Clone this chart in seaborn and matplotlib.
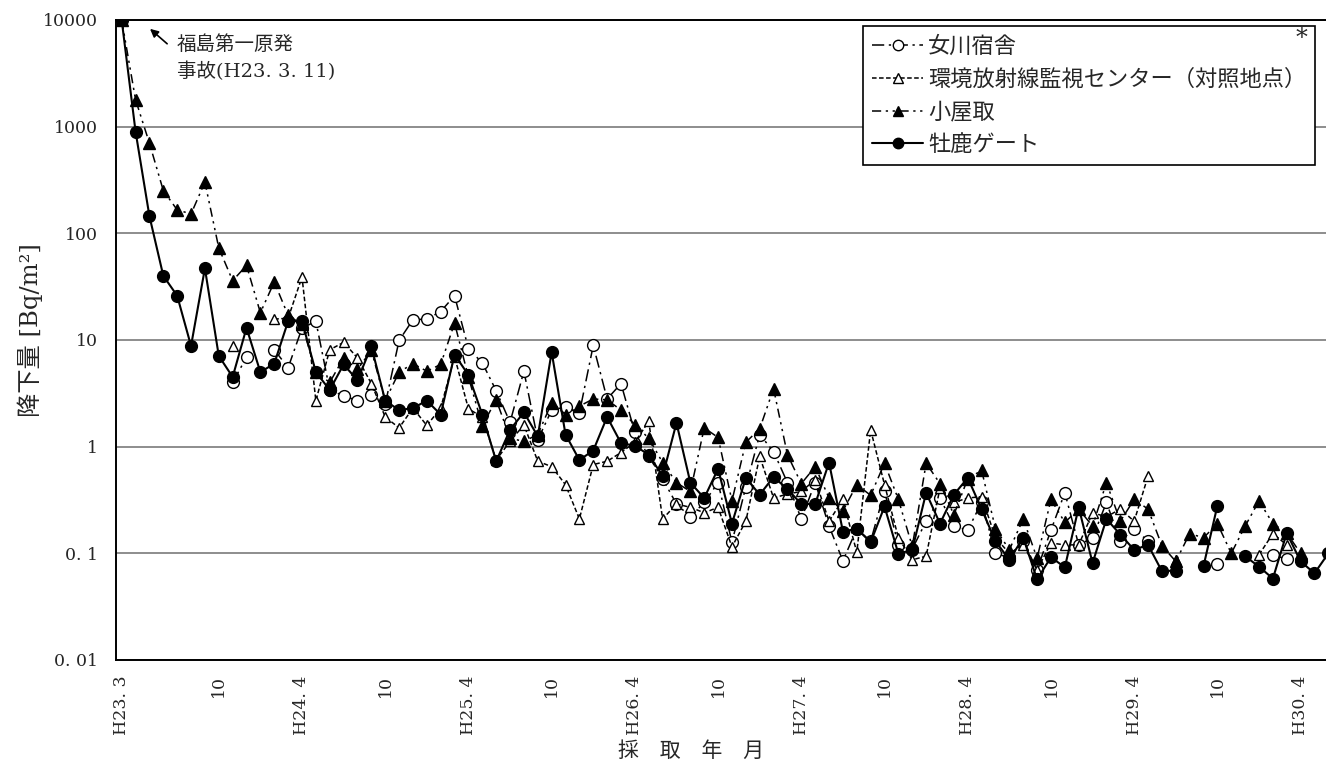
import numpy as np
import pandas as pd
import matplotlib
matplotlib.use("Agg")
import matplotlib.pyplot as plt
import seaborn as sns
from matplotlib.lines import Line2D

nan = np.nan

# ---------------- data ----------------
months = list(range(88))  # 0 = H23.3 (2011-03) ... 87 = H30.6
tick_pos = [0, 7, 13, 19, 25, 31, 37, 43, 49, 55, 61, 67, 73, 79, 85]
tick_labels = ["H23. 3", "10", "H24. 4", "10", "H25. 4", "10", "H26. 4", "10",
               "H27. 4", "10", "H28. 4", "10", "H29. 4", "10", "H30. 4"]
ytick_vals = [0.01, 0.1, 1, 10, 100, 1000, 10000]
ytick_labels = ["0. 01", "0. 1", "1", "10", "100", "1000", "10000"]

series_names = ["女川宿舎", "環境放射線監視センター（対照地点）", "小屋取", "牡鹿ゲート"]

onagawa = [nan, nan, nan, nan, nan, nan, nan, nan, 4.0, 6.9,
           nan, 8.1, 5.5, 12.9, 15, 3.4, 3.0, 2.7, 3.07, 2.5,
           9.9, 15.5, 15.7, 18.5, 26, 8.3, 6.1, 3.35, 1.69, 5.1,
           1.16, 2.2, 2.36, 2.07, 8.9, 2.8, 3.9, 1.36, 0.81, 0.5,
           0.29, 0.22, 0.3, 0.46, 0.127, 0.42, 1.3, 0.9, 0.46, 0.21,
           0.46, 0.18, 0.085, 0.17, 0.13, 0.38, 0.12, 0.11, 0.2, 0.33,
           0.18, 0.165, 0.3, 0.101, 0.09, 0.13, 0.07, 0.165, 0.37, 0.12,
           0.14, 0.3, 0.13, 0.17, 0.13, nan, nan, nan, nan, 0.08,
           nan, nan, nan, 0.097, 0.088, nan, nan, nan]

center = [nan, nan, nan, nan, nan, nan, nan, nan, 8.7, nan,
          nan, 15.7, 16, 39, 2.7, 8.1, 9.5, 6.8, 3.9, 1.9,
          1.5, 2.3, 1.58, 2.3, 7.0, 2.26, 1.9, 0.75, 1.12, 1.6,
          0.73, 0.65, 0.44, 0.21, 0.68, 0.73, 0.88, 1.1, 1.73, 0.21,
          0.29, 0.27, 0.24, 0.27, 0.115, 0.2, 0.81, 0.33, 0.36, 0.38,
          0.49, 0.2, 0.32, 0.102, 1.44, 0.44, 0.14, 0.087, 0.094, 0.41,
          0.3, 0.33, 0.34, 0.14, 0.1, 0.12, 0.07, 0.125, 0.12, 0.12,
          0.24, 0.22, 0.26, 0.2, 0.53, nan, 0.087, nan, nan, nan,
          nan, nan, 0.097, 0.153, 0.12, nan, nan, nan]

koyadori = [10000, 1790, 700, 252, 166, 152, 302, 73, 36, 50,
            18, 35, 17, 14, 5.0, 4.0, 6.8, 5.3, 8.0, 2.7,
            5.0, 6.0, 5.1, 5.9, 14.4, 4.5, 1.57, 2.76, 1.2, 1.12,
            1.3, 2.57, 2.0, 2.4, 2.8, 2.75, 2.2, 1.6, 1.2, 0.71,
            0.46, 0.38, 1.5, 1.22, 0.31, 1.1, 1.47, 3.5, 0.84, 0.45,
            0.65, 0.33, 0.25, 0.44, 0.35, 0.70, 0.32, 0.116, 0.70, 0.45,
            0.23, 0.5, 0.6, 0.17, 0.108, 0.21, 0.09, 0.32, 0.195, 0.26,
            0.18, 0.46, 0.2, 0.32, 0.26, 0.118, 0.084, 0.153, 0.14, 0.19,
            0.1, 0.18, 0.31, 0.19, 0.155, 0.1, nan, nan]

oshika = [10000, 900, 145, 40, 26, 8.8, 47, 7.1, 4.5, 13,
          5.0, 6.0, 15, 15, 5.0, 3.4, 5.9, 4.2, 8.7, 2.7,
          2.2, 2.3, 2.7, 2.0, 7.3, 4.7, 2.0, 0.73, 1.44, 2.1,
          1.25, 7.7, 1.3, 0.75, 0.92, 1.9, 1.08, 1.02, 0.84, 0.53,
          1.67, 0.46, 0.33, 0.62, 0.19, 0.51, 0.355, 0.52, 0.4, 0.29,
          0.29, 0.71, 0.16, 0.17, 0.127, 0.275, 0.099, 0.108, 0.37, 0.19,
          0.355, 0.51, 0.26, 0.13, 0.087, 0.14, 0.057, 0.092, 0.074, 0.27,
          0.081, 0.21, 0.15, 0.108, 0.12, 0.068, 0.069, nan, 0.076, 0.28,
          nan, 0.094, 0.075, 0.058, 0.155, 0.084, 0.065, 0.1]

series_values = [onagawa, center, koyadori, oshika]

# ---------------- styles ----------------
styles = {
    "女川宿舎": dict(linestyle=(0, (8, 3, 1.5, 3)), marker="o", mfc="white", lw=1.1, ms=8.5),
    "環境放射線監視センター（対照地点）": dict(linestyle=(0, (3, 1.6)), marker="^", mfc="white", lw=1.1, ms=7.5),
    "小屋取": dict(linestyle=(0, (6, 3, 1.5, 3, 1.5, 3)), marker="^", mfc="black", lw=1.1, ms=8),
    "牡鹿ゲート": dict(linestyle="-", marker="o", mfc="black", lw=1.5, ms=8.5),
}

frames = []
for name, vals in zip(series_names, series_values):
    s = pd.Series(vals, dtype=float)
    seg = s.isna().cumsum()
    frames.append(pd.DataFrame({"month": months, "value": s, "series": name, "seg": seg}))
df = pd.concat(frames, ignore_index=True)

sns.set_style("white")
SERIF = ["DejaVu Serif", "Noto Sans CJK JP"]
plt.rcParams["font.family"] = SERIF

W, H = 1326, 762
fig = plt.figure(figsize=(W / 100, H / 100), dpi=100)
ax_l, ax_r, ax_t, ax_b = 116, 1326, 20, 660
ax = fig.add_axes([ax_l / W, 1 - ax_b / H, (ax_r - ax_l) / W, (ax_b - ax_t) / H])
ax.set_yscale("log")

for name in series_names:
    sub = df[(df["series"] == name)].dropna(subset=["value"])
    st = styles[name]
    sns.lineplot(data=sub, x="month", y="value", units="seg", estimator=None,
                 color="black", linestyle=st["linestyle"], lw=st["lw"],
                 marker=st["marker"], markersize=st["ms"],
                 markerfacecolor=st["mfc"], markeredgecolor="black",
                 markeredgewidth=1.0, ax=ax, legend=False, sort=True)

ax.set_xlim(-0.41, 86.83)
ax.set_ylim(0.01, 10000)

# grid
ax.yaxis.grid(True, which="major", color="#7a7a7a", lw=1.2)
ax.xaxis.grid(False)
ax.set_axisbelow(True)

for side in ["left", "bottom", "top"]:
    ax.spines[side].set_color("black")
    ax.spines[side].set_linewidth(1.4)
ax.spines["right"].set_visible(False)

ax.set_xticks(tick_pos)
ax.set_xticklabels(tick_labels, rotation=90, fontsize=12.5, family=SERIF, va="top")
ax.set_xticks(months[:87], minor=True)
ax.tick_params(axis="x", which="both", direction="out", length=6, width=1, color="black", pad=5)

ax.set_yticks(ytick_vals)
ax.set_yticklabels(ytick_labels, fontsize=12.5, family=SERIF)
ax.yaxis.set_minor_locator(matplotlib.ticker.LogLocator(base=10, subs=np.arange(2, 10)))
ax.yaxis.set_minor_formatter(matplotlib.ticker.NullFormatter())
ax.tick_params(axis="y", which="major", direction="in", length=5, width=1, pad=13)
ax.tick_params(axis="y", which="minor", direction="in", length=3, width=0.8)

ax.set_xlabel("")
ax.set_ylabel("")
fig.text(30 / W, 1 - 330 / H, "降下量 [Bq/m²]", rotation=90, ha="center", va="center",
         fontsize=17.5, family=SERIF)
fig.text(691 / W, 1 - 751 / H, "採　取　年　月", ha="center", va="center",
         fontsize=15, family=["Noto Sans CJK JP"])

# annotation
ax.annotate("", xy=(0.0264, 0.989), xycoords="axes fraction",
            xytext=(0.044, 0.96), textcoords="axes fraction",
            arrowprops=dict(arrowstyle="-|>", color="black", lw=1.2, mutation_scale=12))
ax.text(0.0505, 0.976, "福島第一原発\n事故(H23. 3. 11)", transform=ax.transAxes,
        ha="left", va="top", fontsize=14, linespacing=1.5, family=SERIF)

# legend
handles = []
for name in series_names:
    st = styles[name]
    handles.append(Line2D([], [], color="black", linestyle=st["linestyle"], lw=st["lw"],
                          marker=st["marker"], markersize=st["ms"] - 1,
                          markerfacecolor=st["mfc"], markeredgecolor="black"))
leg = ax.legend(handles, series_names, loc="upper right",
                bbox_to_anchor=((1315 - ax_l) / (ax_r - ax_l), 1 - 6 / 640),
                frameon=True, fancybox=False, framealpha=1, edgecolor="black",
                prop={"family": ["Noto Sans CJK JP"], "size": 16},
                handlelength=2.3, handletextpad=0.2, labelspacing=0.44,
                borderpad=0.4, borderaxespad=0, numpoints=1)
leg.get_frame().set_linewidth(1.2)
fig.text(1301 / W, 1 - 38 / H, "*", ha="center", va="center", fontsize=17,
         family=["DejaVu Serif"])

fig.savefig("out.png", dpi=100)
